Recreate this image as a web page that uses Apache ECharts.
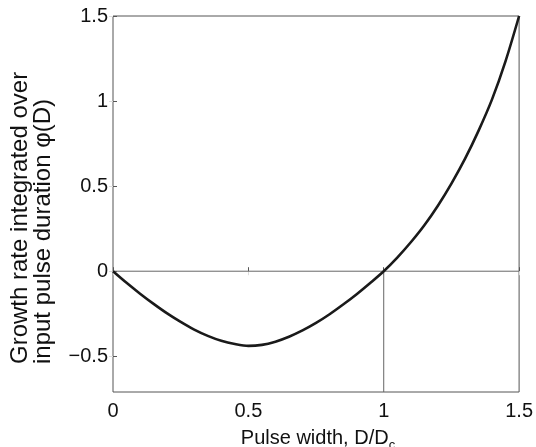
<!DOCTYPE html>
<html>
<head>
<meta charset="utf-8">
<script src="https://cdn.jsdelivr.net/npm/echarts@6/dist/echarts.min.js"></script>
<style>
html,body{margin:0;padding:0;background:#fff;}
#chart{width:536px;height:447px;}
</style>
</head>
<body>
<div id="chart"></div>
<script>
// Pulse width D/Dc
const D = [0, 0.05, 0.1, 0.15, 0.2, 0.25, 0.3, 0.35, 0.4, 0.45, 0.5, 0.55, 0.6, 0.65, 0.7, 0.75, 0.8, 0.85, 0.9, 0.95, 1.0, 1.05, 1.1, 1.15, 1.2, 1.25, 1.3, 1.35, 1.4, 1.45, 1.5];
// Growth rate integrated over input pulse duration phi(D)
const phi = [0, -0.068, -0.132, -0.192, -0.248, -0.298, -0.343, -0.38, -0.409, -0.428, -0.439, -0.433, -0.414, -0.385, -0.348, -0.304, -0.253, -0.196, -0.135, -0.069, 0, 0.08, 0.17, 0.27, 0.385, 0.515, 0.66, 0.825, 1.01, 1.235, 1.5];
// reference lines
const zeroLineX = [0, 1.5];
const zeroLineY = [0, 0];
const unityLineX = [1, 1];
const unityLineY = [-0.71, 0];
// axes
const xTicks = [0, 0.5, 1, 1.5];
const yTicks = [-0.5, 0, 0.5, 1, 1.5];
const xRange = [0, 1.5];
const yRange = [-0.71, 1.5];
const xTitle = 'Pulse width, D/D';
const xTitleSub = 'c';
const yTitle = ['Growth rate integrated over', 'input pulse duration \u03C6(D)'];

const FONT = '"Liberation Sans", Arial, Helvetica, sans-serif';
const fmt = v => (v < 0 ? '\u2212' + Math.abs(v) : String(v));
const pairs = (xs, ys) => xs.map((x, i) => [x, ys[i]]);

const chart = echarts.init(document.getElementById('chart'), null, {renderer: 'canvas'});
const option = {
  animation: false,
  backgroundColor: '#fff',
  grid: {left: 113, right: 14, top: 16, bottom: 55, show: true, borderColor: '#555', borderWidth: 1, backgroundColor: 'transparent'},
  xAxis: [{
    type: 'value', min: xRange[0], max: xRange[1], position: 'bottom',
    axisLine: {show: false},
    splitLine: {show: false},
    axisTick: {show: true, inside: true, length: 4, customValues: xTicks, lineStyle: {color: '#555'}},
    axisLabel: {show: true, customValues: xTicks, formatter: fmt, color: '#111', fontFamily: FONT, fontSize: 20, margin: 9}
  }, {
    type: 'value', min: xRange[0], max: xRange[1], position: 'top',
    axisLine: {show: false}, splitLine: {show: false},
    axisTick: {show: true, inside: true, length: 4, customValues: xTicks, lineStyle: {color: '#ddd'}},
    axisLabel: {show: false}
  }],
  yAxis: [{
    type: 'value', min: yRange[0], max: yRange[1], position: 'left',
    axisLine: {show: false},
    splitLine: {show: false},
    axisTick: {show: true, inside: true, length: 4, customValues: yTicks, lineStyle: {color: '#555'}},
    axisLabel: {show: true, customValues: yTicks, formatter: fmt, color: '#111', fontFamily: FONT, fontSize: 20, margin: 5}
  }, {
    type: 'value', min: yRange[0], max: yRange[1], position: 'right',
    axisLine: {show: false}, splitLine: {show: false},
    axisTick: {show: true, inside: true, length: 4, customValues: yTicks, lineStyle: {color: '#ddd'}},
    axisLabel: {show: false}
  }],
  series: [{
    type: 'line', xAxisIndex: 0, yAxisIndex: 0,
    data: pairs(zeroLineX, zeroLineY), symbol: 'none', silent: true,
    lineStyle: {color: '#666', width: 1}
  }, {
    type: 'line', xAxisIndex: 0, yAxisIndex: 0,
    data: pairs(unityLineX, unityLineY), symbol: 'none', silent: true,
    lineStyle: {color: '#666', width: 1}
  }, {
    type: 'line', xAxisIndex: 0, yAxisIndex: 0,
    data: pairs(D, phi), symbol: 'none', smooth: 0.3,
    lineStyle: {color: '#1a1a1a', width: 2.6}
  }],
  graphic: [{
    type: 'text', x: 318, y: 428,
    style: {
      text: xTitle + '{sub|' + xTitleSub + '}',
      font: '20px ' + FONT, fill: '#111', textAlign: 'center', textVerticalAlign: 'top',
      rich: {sub: {fontSize: 13, fontFamily: FONT, fill: '#111', padding: [0, 0, -14, 0]}}
    }
  }, {
    type: 'text', x: 20, y: 364, rotation: Math.PI / 2,
    style: {
      text: yTitle[0], font: '24px ' + FONT, fill: '#111', textAlign: 'left', textVerticalAlign: 'middle'
    }
  }, {
    type: 'text', x: 43, y: 364, rotation: Math.PI / 2,
    style: {
      text: yTitle[1], font: '24px ' + FONT, fill: '#111', textAlign: 'left', textVerticalAlign: 'middle'
    }
  }]
};
chart.setOption(option);
</script>
</body>
</html>
